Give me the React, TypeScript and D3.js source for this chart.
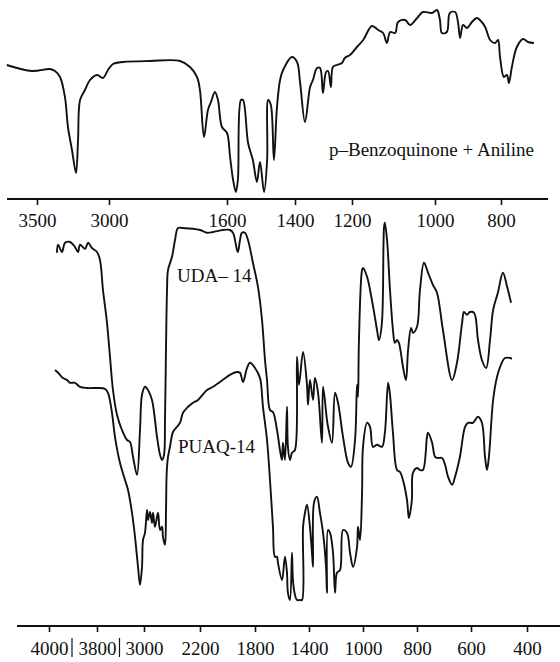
import { useEffect, useRef } from 'react';
import * as d3 from 'd3';

// wavenumber (cm-1), transmittance (%)
const benzoquinoneAniline: [number, number][] = [
  [3710, 67.5], [3535, 64.5], [3410, 65.5], [3375, 64.5], [3340, 61.5], [3306, 51.5], [3285, 36.5],
  [3257, 25], [3229, 13.5], [3215, 30], [3201, 50], [3167, 55], [3132, 60], [3083, 62.5], [3042, 61],
  [3007, 65], [2953, 68], [2834, 69], [2514, 69.5], [2158, 69.5], [2039, 66.5], [1956, 61.5],
  [1921, 55], [1873, 31.5], [1826, 45], [1790, 49], [1743, 54], [1707, 50], [1660, 36.5], [1600, 33.5],
  [1591, 21.5], [1582, 10], [1574, 4], [1568, 10], [1559, 50], [1553, 50], [1538, 28.5], [1524, 20],
  [1512, 9], [1503, 19], [1491, 4], [1482, 20], [1479, 50], [1471, 47.5], [1462, 20], [1453, 46.5],
  [1444, 60], [1435, 65], [1409, 71.5], [1393, 69], [1382, 58.5], [1365, 39], [1347, 56.5], [1337, 60],
  [1323, 66], [1312, 66], [1302, 53.5], [1291, 64], [1284, 64.5], [1274, 56.5], [1267, 66.5],
  [1253, 67.5], [1235, 68.5], [1225, 71], [1207, 72.5], [1188, 76.5], [1173, 80], [1152, 87],
  [1137, 85], [1125, 83.5], [1116, 78.5], [1108, 84], [1096, 83.5], [1089, 89], [1072, 90], [1060, 87.5],
  [1043, 91], [1029, 94], [1007, 93.5], [994, 95], [985, 90], [979, 83.5], [964, 84], [955, 93.5],
  [939, 94], [930, 88.5], [924, 81], [915, 87.5], [903, 86], [888, 89], [873, 91], [864, 90], [848, 86.5],
  [833, 80], [818, 78.5], [809, 80], [803, 71.5], [791, 61.5], [782, 62.5], [776, 58.5], [767, 66.5],
  [752, 76.5], [733, 80.5], [718, 79], [700, 78.5],
];

const uda14: [number, number][] = [
  [3967, 91.8], [3962, 93.8], [3946, 92], [3933, 94.3], [3912, 94.5], [3892, 93.3], [3879, 92],
  [3871, 93.8], [3850, 92.8], [3837, 94.3], [3821, 93], [3800, 92], [3749, 90], [3698, 82.5],
  [3630, 74.3], [3579, 65.8], [3528, 57.5], [3460, 51.3], [3375, 47.5], [3289, 45], [3238, 44.5],
  [3187, 40.8], [3119, 36.3], [3068, 47.5], [3034, 56.3], [2986, 58.3], [2943, 57.5], [2886, 55],
  [2857, 52], [2814, 45.8], [2771, 41.3], [2743, 40], [2714, 41.3], [2700, 50], [2686, 67.5],
  [2671, 82.5], [2657, 87.5], [2600, 90.8], [2557, 95], [2514, 98], [2443, 98], [2200, 97.5],
  [2149, 96.8], [2105, 97], [2033, 97.5], [1982, 97.5], [1960, 96.8], [1931, 92.5], [1924, 92],
  [1909, 95], [1895, 96.8], [1873, 96.8], [1851, 95], [1815, 89.3], [1778, 83.3], [1748, 75],
  [1726, 65], [1711, 60], [1689, 52.5], [1667, 52], [1637, 47.5], [1615, 42.5], [1600, 40],
  [1593, 44.3], [1578, 40], [1563, 53.3], [1556, 43.3], [1541, 40], [1526, 41.8], [1504, 42.5],
  [1489, 65.8], [1474, 58.8], [1444, 67], [1415, 58.8], [1407, 53.8], [1393, 60], [1370, 55],
  [1356, 60.5], [1333, 56.8], [1304, 44.3], [1296, 58.3], [1267, 50], [1259, 48.3], [1230, 44.3],
  [1207, 56.8], [1185, 54.3], [1148, 45.8], [1111, 39.3], [1089, 38.3], [1059, 45], [1044, 58.8],
  [1037, 55.8], [1030, 70], [1007, 87.5], [1000, 88], [985, 85.8], [967, 80], [948, 72.5], [941, 70],
  [930, 74.3], [922, 98.3], [919, 99.3], [911, 95], [900, 82.5], [889, 72.5], [882, 69.3], [874, 70],
  [867, 69.3], [852, 63.3], [841, 60], [833, 67.5], [822, 73], [815, 71.8], [800, 73.3], [789, 82.5],
  [774, 89.3], [759, 86.8], [741, 83.8], [726, 81.8], [704, 72.5], [670, 60], [652, 64.3], [633, 74.3],
  [626, 77], [615, 76.3], [604, 77], [589, 76.8], [575, 70], [561, 65], [546, 63], [532, 70],
  [521, 77.5], [504, 81.8], [486, 86.8], [471, 83.3], [457, 79.3],
];

const puaq14: [number, number][] = [
  [3975, 62.5], [3962, 61.8], [3942, 60.5], [3925, 60], [3912, 59.3], [3892, 59.3], [3871, 58.3],
  [3842, 58], [3800, 58], [3664, 57.8], [3613, 56.8], [3545, 51.8], [3494, 45.8], [3409, 39.3],
  [3323, 35], [3272, 32.5], [3204, 26.8], [3153, 20.8], [3102, 13.3], [3068, 8.8], [3034, 13.3],
  [3017, 20], [2986, 21.8], [2957, 27.5], [2943, 25], [2914, 27], [2886, 24.3], [2871, 26.8],
  [2843, 23.3], [2800, 26.8], [2771, 22.5], [2743, 23.3], [2729, 20.8], [2700, 18.8], [2686, 26.8],
  [2679, 35], [2671, 38.3], [2657, 40.8], [2629, 43.3], [2586, 47], [2529, 48.3], [2486, 49.3],
  [2443, 51.8], [2371, 53.3], [2300, 54.3], [2229, 55], [2149, 57.5], [2105, 58.3], [2055, 59.5],
  [1982, 61.3], [1931, 62], [1909, 61.8], [1887, 59.5], [1858, 63], [1836, 64.3], [1800, 63],
  [1763, 60.5], [1741, 53.3], [1711, 45], [1689, 35], [1667, 23.3], [1652, 15.8], [1637, 15.8],
  [1630, 14.3], [1600, 10], [1578, 15.8], [1563, 11.8], [1556, 6.8], [1541, 5], [1526, 16.8],
  [1519, 10], [1504, 6.3], [1489, 5], [1467, 5], [1452, 5], [1444, 23.3], [1430, 26.8], [1415, 28.8],
  [1393, 23.3], [1378, 16.8], [1370, 13.3], [1363, 29.3], [1341, 30.8], [1319, 26.8], [1296, 21.8],
  [1274, 13.3], [1267, 6.8], [1259, 22.5], [1244, 21.8], [1222, 16.8], [1207, 6.8], [1193, 11.8],
  [1170, 12.5], [1148, 22.5], [1119, 21.8], [1096, 16.8], [1074, 13.3], [1044, 18.3], [1037, 23.3],
  [1022, 20], [1007, 31.8], [1000, 43.3], [985, 49.3], [974, 48.3], [963, 43.3], [948, 43.8],
  [930, 43.3], [919, 46.8], [907, 59.3], [900, 56.3], [889, 46.8], [874, 37.5], [863, 37], [852, 35],
  [837, 30], [830, 25.5], [819, 30], [815, 36.8], [800, 38], [789, 37.5], [778, 37.5], [763, 45.8],
  [759, 46.8], [744, 44.3], [733, 40.8], [722, 40.5], [707, 40.5], [696, 38.8], [685, 35.8],
  [670, 33.8], [659, 35.8], [641, 40.8], [622, 48.3], [611, 49.3], [593, 49.3], [575, 50.8],
  [561, 49.3], [550, 40.8], [543, 37.5], [536, 40.8], [521, 55], [507, 60.8], [496, 63.3], [479, 65.5],
  [461, 65.5], [454, 65.3],
];

const topTicks = [3500, 3000, 1600, 1400, 1200, 1000, 800];
const bottomTicks = [4000, 3800, 3000, 2200, 1800, 1400, 1000, 800, 600, 400];
// label breaks drawn as "|" between these pairs
const bottomBreaks: [number, number][] = [[4000, 3800], [3800, 3000]];

const W = 560;
const H = 662;
const FONT = '"Liberation Serif", "Times New Roman", serif';

export default function App() {
  const ref = useRef<SVGSVGElement>(null);

  useEffect(() => {
    document.body.style.margin = '0';
    const svg = d3.select(ref.current);
    svg.selectAll('*').remove();

    // broken wavenumber axes: each labelled tick has its own place
    const xTop = d3.scaleLinear().domain(topTicks).range([37, 109, 227, 295, 352, 435, 501]);
    const xBot = d3.scaleLinear().domain(bottomTicks).range([49, 97, 144, 200, 255, 309, 363, 417, 471, 527]);
    const yTop = d3.scaleLinear().domain([0, 100]).range([200, 0]);
    const yBot = d3.scaleLinear().domain([0, 100]).range([620, 220]);

    const lineTop = d3.line<[number, number]>()
      .x(d => xTop(d[0])).y(d => yTop(d[1]))
      .curve(d3.curveCatmullRom.alpha(0.5));
    const lineBot = d3.line<[number, number]>()
      .x(d => xBot(d[0])).y(d => yBot(d[1]))
      .curve(d3.curveCatmullRom.alpha(0.5));

    const ink = '#111';

    const spectra: [[number, number][], d3.Line<[number, number]>][] = [
      [benzoquinoneAniline, lineTop],
      [uda14, lineBot],
      [puaq14, lineBot],
    ];
    spectra.forEach(([data, line]) => {
      svg.append('path').datum(data).attr('d', line)
        .attr('fill', 'none').attr('stroke', ink).attr('stroke-width', 1.9)
        .attr('stroke-linejoin', 'round');
    });

    // top axis
    const gTop = svg.append('g').attr('transform', 'translate(0,199)');
    gTop.append('line').attr('x1', 7).attr('x2', 548).attr('stroke', ink).attr('stroke-width', 2.2);
    gTop.call(d3.axisBottom(xTop).tickValues(topTicks).tickSize(6).tickSizeOuter(0).tickFormat(d3.format('d')));
    gTop.select('.domain').remove();
    gTop.selectAll('.tick line').attr('stroke', ink).attr('stroke-width', 1.6);
    gTop.selectAll('.tick text').attr('y', 28).attr('dy', 0)
      .attr('font-family', FONT).attr('font-size', 19).attr('fill', ink);

    // bottom axis
    const gBot = svg.append('g').attr('transform', 'translate(0,626)');
    gBot.append('line').attr('x1', 17).attr('x2', 560).attr('stroke', ink).attr('stroke-width', 2.2);
    gBot.call(d3.axisBottom(xBot).tickValues(bottomTicks).tickSize(6).tickSizeOuter(0).tickFormat(d3.format('d')));
    gBot.select('.domain').remove();
    gBot.selectAll('.tick line').attr('stroke', ink).attr('stroke-width', 1.6);
    gBot.selectAll('.tick text').attr('y', 29).attr('dy', 0)
      .attr('font-family', FONT).attr('font-size', 19).attr('fill', ink);
    gBot.selectAll('.brk').data(bottomBreaks).join('line')
      .attr('x1', d => (xBot(d[0]) + xBot(d[1])) / 2 - 1)
      .attr('x2', d => (xBot(d[0]) + xBot(d[1])) / 2 - 1)
      .attr('y1', 12).attr('y2', 31).attr('stroke', ink).attr('stroke-width', 1.2);

    // labels
    const label = (x: number, y: number, t: string) =>
      svg.append('text').attr('x', x).attr('y', y).text(t)
        .attr('font-family', FONT).attr('font-size', 19).attr('fill', ink);
    label(329, 156, 'p\u2013Benzoquinone + Aniline');
    label(177, 282, 'UDA\u2013 14');
    label(178, 453, 'PUAQ-14');
  }, []);

  return <svg ref={ref} width={W} height={H} style={{ display: 'block', background: '#fff' }} />;
}
